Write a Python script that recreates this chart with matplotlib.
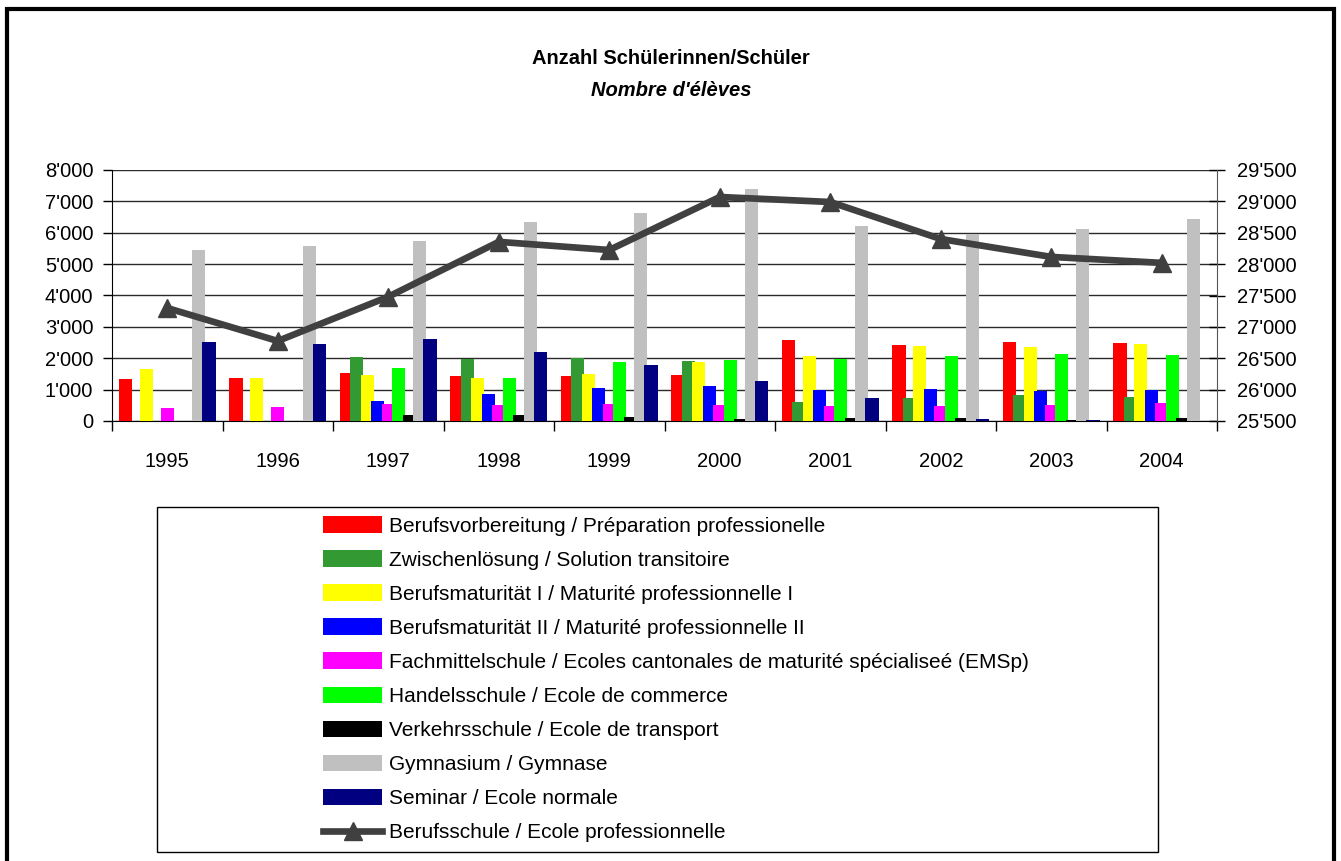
import numpy as np
import matplotlib
matplotlib.use('Agg')
import matplotlib.pyplot as plt
from matplotlib.ticker import FuncFormatter, FixedLocator
from matplotlib.patches import Rectangle, Patch
from matplotlib.lines import Line2D

plt.rcParams['font.family'] = ['Liberation Sans', 'DejaVu Sans']

years = ['1995', '1996', '1997', '1998', '1999', '2000', '2001', '2002', '2003', '2004']

berufsvorbereitung = [1330, 1380, 1520, 1430, 1440, 1480, 2590, 2420, 2520, 2490]
zwischenloesung = [0, 0, 2050, 1970, 2020, 1900, 600, 720, 820, 750]
bm1 = [1650, 1370, 1480, 1370, 1490, 1880, 2070, 2400, 2360, 2460]
bm2 = [0, 0, 630, 850, 1050, 1120, 1000, 1020, 960, 1000]
fachmittelschule = [420, 450, 530, 500, 530, 520, 490, 490, 520, 560]
handelsschule = [0, 0, 1700, 1370, 1880, 1960, 1990, 2080, 2120, 2100]
verkehrsschule = [0, 0, 200, 180, 120, 70, 110, 100, 30, 80]
gymnasium = [5450, 5580, 5730, 6350, 6620, 7390, 6220, 5970, 6110, 6430]
seminar = [2520, 2450, 2620, 2200, 1780, 1270, 730, 50, 40, 0]
berufsschule = [27300, 26775, 27480, 28355, 28225, 29070, 28990, 28400, 28115, 28020]

bar_series = [
    (berufsvorbereitung, '#FF0000', 'Berufsvorbereitung / Préparation professionelle'),
    (zwischenloesung, '#339933', 'Zwischenlösung / Solution transitoire'),
    (bm1, '#FFFF00', 'Berufsmaturität I / Maturité professionnelle I'),
    (bm2, '#0000FF', 'Berufsmaturität II / Maturité professionnelle II'),
    (fachmittelschule, '#FF00FF', 'Fachmittelschule / Ecoles cantonales de maturité spécialiseé (EMSp)'),
    (handelsschule, '#00FF00', 'Handelsschule / Ecole de commerce'),
    (verkehrsschule, '#000000', 'Verkehrsschule / Ecole de transport'),
    (gymnasium, '#C0C0C0', 'Gymnasium / Gymnase'),
    (seminar, '#000080', 'Seminar / Ecole normale'),
]
line_label = 'Berufsschule / Ecole professionnelle'

FS = 14.5

fig = plt.figure(figsize=(13.41, 8.61), dpi=100)
ax = fig.add_axes([112 / 1341, 1 - 421 / 861, 1105 / 1341, 251 / 861])

x = np.arange(len(years))
n = len(bar_series)
step = 0.095
w = 0.122
for i, (vals, col, lab) in enumerate(bar_series):
    ax.bar(x + (i - (n - 1) / 2) * step, vals, width=w, color=col, edgecolor='none', zorder=3)

ax.set_xlim(-0.5, len(years) - 0.5)
ax.set_ylim(0, 8000)
ax.set_yticks(np.arange(0, 8001, 1000))
fmt = FuncFormatter(lambda v, p: '0' if v == 0 else f'{int(v):,}'.replace(',', "'"))
ax.yaxis.set_major_formatter(fmt)
ax.set_xticks(x)
ax.set_xticklabels(years)
ax.xaxis.set_minor_locator(FixedLocator(np.arange(-0.5, len(years), 1.0)))
ax.tick_params(axis='x', which='major', length=0, pad=22.5, labelsize=FS)
ax.tick_params(axis='x', which='minor', length=7, width=1, direction='out')
ax.tick_params(axis='y', length=6.5, width=1, direction='out', labelsize=FS, pad=7)
ax.yaxis.grid(True, color='#2a2a2a', linewidth=1)
ax.set_axisbelow(True)
for s in ['top', 'right']:
    ax.spines[s].set_visible(False)
ax.spines['left'].set_color('black')
ax.spines['bottom'].set_color('black')

ax2 = ax.twinx()
ax2.plot(x, berufsschule, color='#404040', linewidth=4.8, marker='^', markersize=13,
         zorder=5)
ax2.set_ylim(25500, 29500)
ax2.set_yticks(np.arange(25500, 29501, 500))
ax2.yaxis.set_major_formatter(FuncFormatter(lambda v, p: f'{int(v):,}'.replace(',', "'")))
ax2.tick_params(axis='y', length=11, width=1, direction='inout', labelsize=FS, pad=9)
for s in ['top', 'left', 'bottom']:
    ax2.spines[s].set_visible(False)
ax2.spines['right'].set_color('#555555')

# titles
fig.text(671 / 1341, 1 - 58 / 861, 'Anzahl Schülerinnen/Schüler', ha='center', va='center',
         fontsize=FS, fontweight='bold')
fig.text(671 / 1341, 1 - 90 / 861, "Nombre d'élèves", ha='center', va='center',
         fontsize=FS, fontweight='bold', fontstyle='italic')

# legend
handles = [Patch(facecolor=c, edgecolor='none', label=l) for _, c, l in bar_series]
handles.append(Line2D([], [], color='#404040', linewidth=4.8, marker='^', markersize=13,
                      label=line_label))
fig.patches.append(Rectangle((157 / 1341, 1 - 852 / 861), 1001 / 1341, 345 / 861,
                             transform=fig.transFigure, facecolor='white',
                             edgecolor='black', linewidth=1))
fig.legend(handles=handles, loc='upper left', bbox_to_anchor=(323 / 1341, 1 - 516 / 861),
           frameon=False, fontsize=15, handlelength=2.85, handleheight=0.85,
           handletextpad=0.3, labelspacing=0.7, borderpad=0, borderaxespad=0)

# outer border
fig.patches.append(Rectangle((7 / 1341, -0.01), 1327 / 1341, 1.0, transform=fig.transFigure,
                             facecolor='none', edgecolor='black', linewidth=3))

fig.savefig('out.png', dpi=100)
